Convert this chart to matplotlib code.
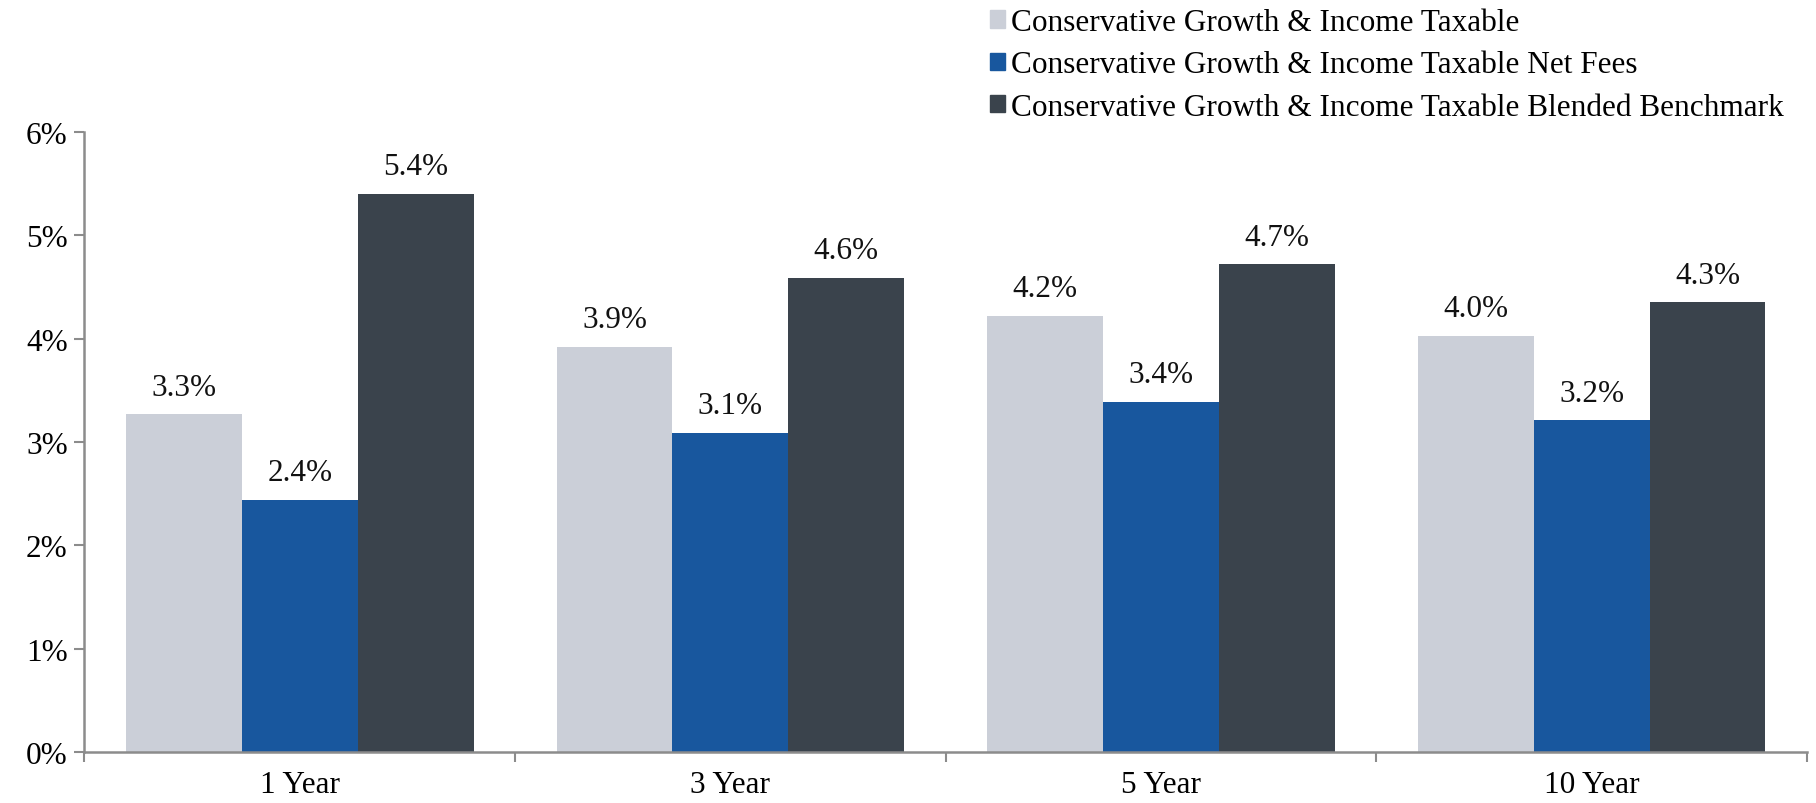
import numpy as np
import matplotlib.pyplot as plt
from matplotlib.patches import Patch

periods = ["1 Year", "3 Year", "5 Year", "10 Year"]
series_names = ["Conservative Growth & Income Taxable",
                "Conservative Growth & Income Taxable Net Fees",
                "Conservative Growth & Income Taxable Blended Benchmark"]
gross = [3.27, 3.92, 4.22, 4.03]
net_fees = [2.44, 3.09, 3.39, 3.21]
benchmark = [5.40, 4.59, 4.72, 4.35]
colors = ["#cbcfd8", "#18579e", "#3a434c"]
yticks = [0, 1, 2, 3, 4, 5, 6]

plt.rcParams['font.family'] = ['Liberation Serif', 'DejaVu Serif']
fs = 22.5

fig = plt.figure(figsize=(18.16, 8.04), dpi=100)
ax = fig.add_axes([0.0465, 0.0634, 0.9485, 0.7712])

x = np.arange(len(periods))
w = 0.269
for i, vals in enumerate([gross, net_fees, benchmark]):
    bars = ax.bar(x + (i - 1) * w, vals, width=w, color=colors[i], label=series_names[i], zorder=2)
    for b, v in zip(bars, vals):
        ax.annotate(f"{v:.1f}%", (b.get_x() + b.get_width() / 2, v),
                    xytext=(0, 9), textcoords="offset points",
                    ha="center", va="bottom", fontsize=fs, color="#111111")

ax.set_xlim(-0.5, len(periods) - 0.5)
ax.set_ylim(0, 6)
ax.set_yticks(yticks)
ax.set_yticklabels([f"{t}%" for t in yticks], fontsize=fs)

# boundaries as major ticks, category labels as minor ticks
ax.set_xticks(np.arange(len(periods) + 1) - 0.5)
ax.set_xticklabels([])
ax.set_xticks(x, minor=True)
ax.set_xticklabels(periods, minor=True, fontsize=fs)
ax.tick_params(axis="x", which="minor", length=0, pad=13)
ax.tick_params(axis="x", which="major", length=7, width=1.5, color="#8c8c8c", direction="out")
ax.tick_params(axis="y", length=7, width=1.5, color="#8c8c8c", pad=5)

for s in ["top", "right"]:
    ax.spines[s].set_visible(False)
for s in ["left", "bottom"]:
    ax.spines[s].set_color("#8c8c8c")
    ax.spines[s].set_linewidth(1.8)

handles = [Patch(color=c) for c in colors]
fig.legend(handles, series_names, loc="upper left", bbox_to_anchor=(0.538, 1.004),
           frameon=False, fontsize=fs, handlelength=0.48, handleheight=0.48,
           handletextpad=0.22, labelspacing=0.42, borderaxespad=0)

fig.savefig("out.png", dpi=100)
